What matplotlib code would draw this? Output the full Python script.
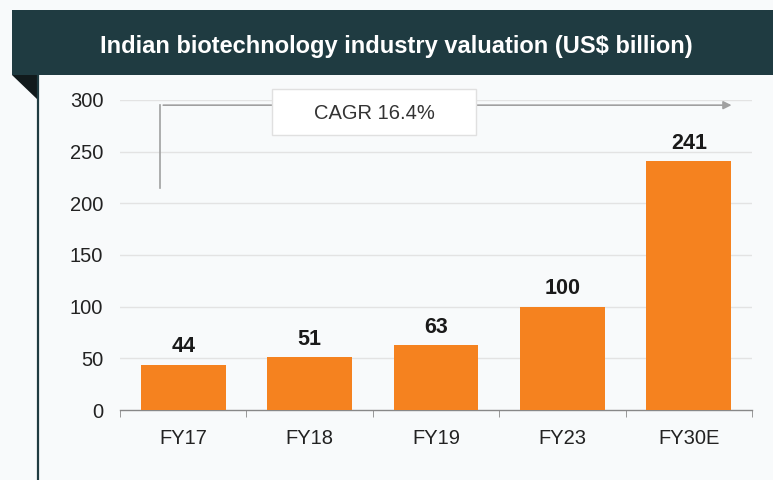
import matplotlib
matplotlib.use("Agg")
import matplotlib.pyplot as plt
from matplotlib.patches import Rectangle, Polygon, FancyBboxPatch

categories = ["FY17", "FY18", "FY19", "FY23", "FY30E"]
values = [44, 51, 63, 100, 241]
yticks = [0, 50, 100, 150, 200, 250, 300]
title = "Indian biotechnology industry valuation (US$ billion)"
cagr_label = "CAGR 16.4%"

plt.rcParams['font.family'] = ['Liberation Sans', 'DejaVu Sans']

W, H = 773, 480
fig = plt.figure(figsize=(W / 100, H / 100), dpi=100, facecolor='#f8fafb')

def fx(px):
    return px / W

def fy(py):
    return 1 - py / H

# Title banner
banner_col = '#1f3b41'
fig.patches.append(Rectangle((fx(12), fy(75)), fx(773) - fx(12), fy(10) - fy(75),
                             transform=fig.transFigure, facecolor=banner_col,
                             edgecolor='none', zorder=0))
fig.patches.append(Polygon([(fx(12), fy(75)), (fx(38), fy(75)), (fx(38), fy(100))],
                           closed=True, transform=fig.transFigure,
                           facecolor='#111a1c', edgecolor='none'))
fig.lines.append(plt.Line2D([fx(37.5), fx(37.5)], [fy(75), fy(480)],
                            transform=fig.transFigure, color=banner_col, lw=1.6))
fig.text(fx(396), fy(46), title, color='white', fontsize=17, fontweight='bold',
         ha='center', va='center')

ax = fig.add_axes([fx(120), fy(410), fx(752) - fx(120), fy(100) - fy(410)])
ax.set_facecolor('none')
x = list(range(len(categories)))
ax.bar(x, values, width=0.67, color='#f5821f', zorder=3)
for xi, v in zip(x, values):
    ax.text(xi, v + 7, str(v), ha='center', va='bottom', fontsize=15.5,
            fontweight='bold', color='#1a1a1a', zorder=4)

ax.set_xlim(-0.5, len(categories) - 0.5)
ax.set_ylim(0, 300)
ax.set_yticks(yticks)
ax.set_yticklabels([str(t) for t in yticks], fontsize=14.5, color='#222222')
ax.set_xticks(x)
ax.set_xticklabels(categories, fontsize=14.5, color='#222222')
ax.set_xticks([i - 0.5 for i in range(len(categories) + 1)], minor=True)
ax.tick_params(axis='x', which='major', length=0, pad=14)
ax.tick_params(axis='x', which='minor', length=5, color='#888888', direction='out')
ax.tick_params(axis='y', length=0, pad=12)
for s in ['top', 'right', 'left']:
    ax.spines[s].set_visible(False)
ax.spines['bottom'].set_color('#888888')
ax.spines['bottom'].set_linewidth(1.0)
for t in yticks[1:]:
    ax.axhline(t, color='#e3e3e3', lw=1.0, zorder=1)

# CAGR bracket
ax.plot([-0.18, -0.18], [215, 295], color='#a0a0a0', lw=1.2, zorder=2, clip_on=False)
ax.annotate('', xy=(4.36, 295), xytext=(-0.18, 295),
            arrowprops=dict(arrowstyle='-|>', color='#a0a0a0', lw=1.2,
                            mutation_scale=12), annotation_clip=False, zorder=2)
box = FancyBboxPatch((0.70, 266), 1.62, 45, boxstyle='square,pad=0',
                     facecolor='white', edgecolor='#e0e0e0', lw=1.0,
                     zorder=5, clip_on=False)
ax.add_patch(box)
ax.text(1.51, 287, cagr_label, ha='center', va='center', fontsize=14.5,
        color='#333333', zorder=6, clip_on=False)

fig.savefig('out.png', dpi=100, facecolor=fig.get_facecolor())
